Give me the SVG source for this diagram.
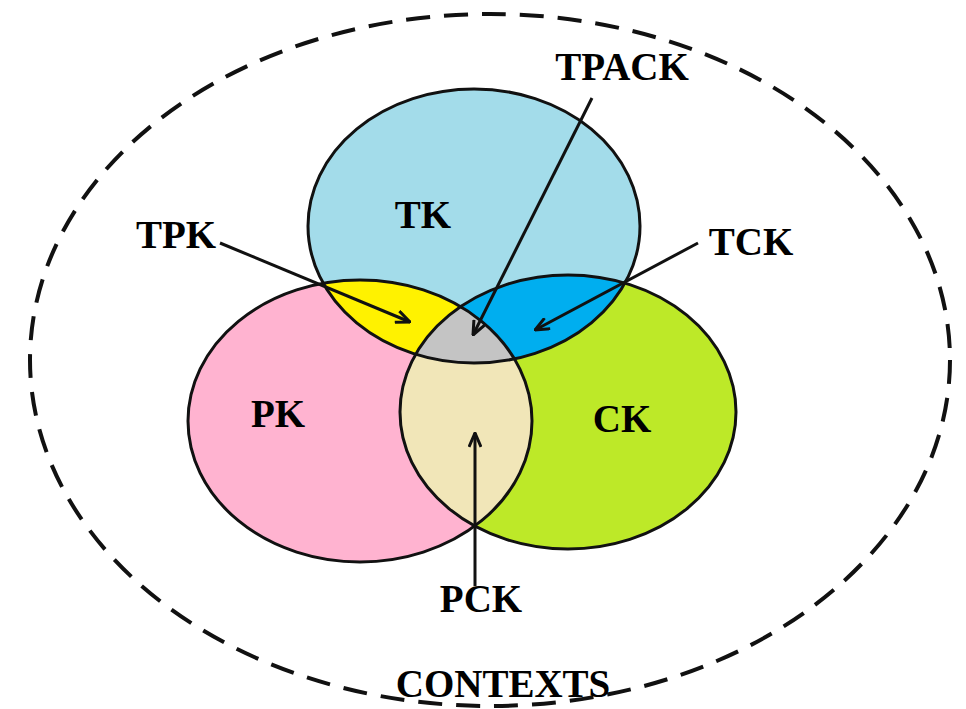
<svg xmlns="http://www.w3.org/2000/svg" width="966" height="709" viewBox="0 0 966 709">
<style>
.lbl{font-family:"Liberation Serif","Times New Roman",serif;font-weight:bold;font-size:39px;fill:#000;text-anchor:middle}
.ol{fill:none;stroke:#111;stroke-width:3}
.conn{stroke:#111;stroke-width:3;fill:none;marker-end:url(#arr)}
</style>
<defs>
<ellipse id="eTK" cx="474" cy="226" rx="166" ry="137"/>
<ellipse id="ePK" cx="360" cy="421" rx="172" ry="141"/>
<ellipse id="eCK" cx="568" cy="412" rx="168" ry="137"/>
<clipPath id="cTK"><use href="#eTK"/></clipPath>
<clipPath id="cPK"><use href="#ePK"/></clipPath>
<clipPath id="cCK"><use href="#eCK"/></clipPath>
<marker id="arr" viewBox="0 0 16 14" refX="15" refY="7" markerWidth="16" markerHeight="14" markerUnits="userSpaceOnUse" orient="auto">
<path d="M1,1 L15,7 L1,13" fill="none" stroke="#111" stroke-width="3"/>
</marker>
</defs>
<rect width="966" height="709" fill="#fff"/>
<g id="contexts">
<ellipse cx="490" cy="360" rx="460" ry="346" fill="none" stroke="#111" stroke-width="4" stroke-dasharray="24 14"/>
<text class="lbl" x="503" y="697">CONTEXTS</text>
</g>
<g id="TK"><use href="#eTK" fill="#a3dcea"/></g>
<g id="PK"><use href="#ePK" fill="#ffb3d0"/></g>
<g id="CK"><use href="#eCK" fill="#bde928"/></g>
<g id="TPK"><use href="#ePK" fill="#fff200" clip-path="url(#cTK)"/></g>
<g id="TCK"><use href="#eCK" fill="#00aeef" clip-path="url(#cTK)"/></g>
<g id="PCK"><use href="#eCK" fill="#f1e6b8" clip-path="url(#cPK)"/></g>
<g id="TPACK"><g clip-path="url(#cPK)"><use href="#eCK" fill="#c4c4c4" clip-path="url(#cTK)"/></g></g>
<g id="outlines">
<use href="#eTK" class="ol"/>
<use href="#ePK" class="ol"/>
<use href="#eCK" class="ol"/>
</g>
<g id="labels">
<text class="lbl" x="423" y="228">TK</text>
<text class="lbl" x="278" y="427">PK</text>
<text class="lbl" x="622" y="432">CK</text>
<text class="lbl" x="622" y="80">TPACK</text>
<text class="lbl" x="176" y="248">TPK</text>
<text class="lbl" x="751" y="255">TCK</text>
<text class="lbl" x="481" y="612">PCK</text>
</g>
<g id="connectors">
<line class="conn" x1="592" y1="98" x2="473" y2="335"/>
<line class="conn" x1="220" y1="243" x2="410" y2="322"/>
<line class="conn" x1="698" y1="243" x2="535" y2="330"/>
<line class="conn" x1="475" y1="586" x2="475" y2="433"/>
</g>
</svg>
